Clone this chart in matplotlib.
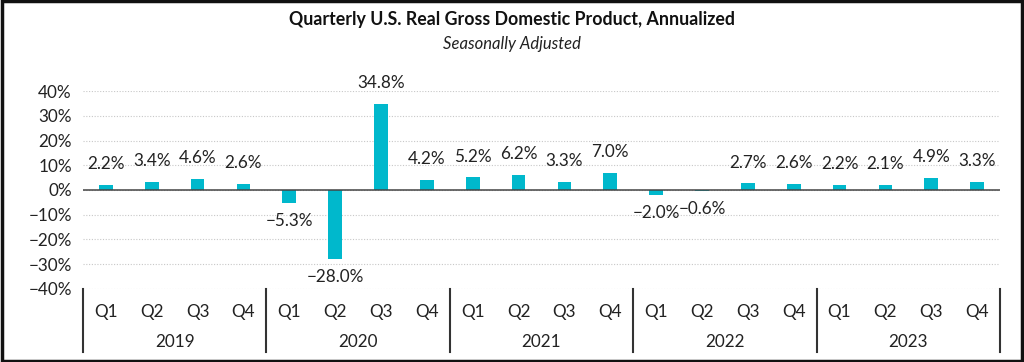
import numpy as np
import matplotlib.pyplot as plt
from matplotlib.patches import Rectangle
from matplotlib.transforms import blended_transform_factory

plt.rcParams['font.family'] = ['Lato', 'DejaVu Sans']

years = ["2019", "2020", "2021", "2022", "2023"]
quarters = ["Q1", "Q2", "Q3", "Q4"]
gdp = [2.2, 3.4, 4.6, 2.6,
       -5.3, -28.0, 34.8, 4.2,
       5.2, 6.2, 3.3, 7.0,
       -2.0, -0.6, 2.7, 2.6,
       2.2, 2.1, 4.9, 3.3]
yticks = [-40, -30, -20, -10, 0, 10, 20, 30, 40]

bar_color = "#00B8CC"

fig = plt.figure(figsize=(10.24, 3.62), dpi=100)
ax = fig.add_axes([0.081, 0.2017, 0.8956, 0.5469])

x = np.arange(len(gdp))
ax.bar(x, gdp, width=0.3, color=bar_color, zorder=3)
ax.set_xlim(-0.5, len(gdp) - 0.5)
ax.set_ylim(-40, 40)

for i, v in enumerate(gdp):
    s = ("%.1f%%" % v).replace("-", "\u2212")
    if v >= 0:
        ax.annotate(s, (i, v), xytext=(0, 9), textcoords="offset points",
                    ha="center", va="bottom", fontsize=12.3, color="#222222")
    else:
        ax.annotate(s, (i, v), xytext=(0, -7), textcoords="offset points",
                    ha="center", va="top", fontsize=12.3, color="#222222")

ax.set_yticks(yticks)
ax.set_yticklabels([("%d%%" % t).replace("-", "\u2212") for t in yticks],
                   fontsize=12.3, color="#222222")
ax.yaxis.grid(True, linestyle=(0, (1, 1.5)), color="#c8c8c8", linewidth=0.8, zorder=0)
ax.axhline(0, color="#444444", linewidth=1.1, zorder=4)

ax.set_xticks(x)
ax.set_xticklabels(quarters * len(years), fontsize=12.3, color="#222222")
ax.tick_params(axis="both", length=0, pad=8)
ax.tick_params(axis="x", pad=11)

for sp in ax.spines.values():
    sp.set_visible(False)

trans = blended_transform_factory(ax.transData, ax.transAxes)
for k, yr in enumerate(years):
    ax.text(4 * k + 1.5, -0.27, yr, transform=trans, ha="center", va="center",
            fontsize=12.3, color="#222222")
for k in range(len(years) + 1):
    ax.plot([4 * k - 0.5, 4 * k - 0.5], [0, -0.32], transform=trans,
            color="#333333", linewidth=1.5, clip_on=False)

fig.text(0.5, 0.945, "Quarterly U.S. Real Gross Domestic Product, Annualized",
         ha="center", va="center", fontsize=12.8, fontweight="bold", color="#111111")
fig.text(0.5, 0.878, "Seasonally Adjusted", ha="center", va="center",
         fontsize=12, style="italic", color="#222222")

fig.patches.append(Rectangle((0.002, 0.004), 0.996, 0.992, transform=fig.transFigure,
                             fill=False, edgecolor="#111111", linewidth=2.5))

fig.savefig("out.png", dpi=100)
